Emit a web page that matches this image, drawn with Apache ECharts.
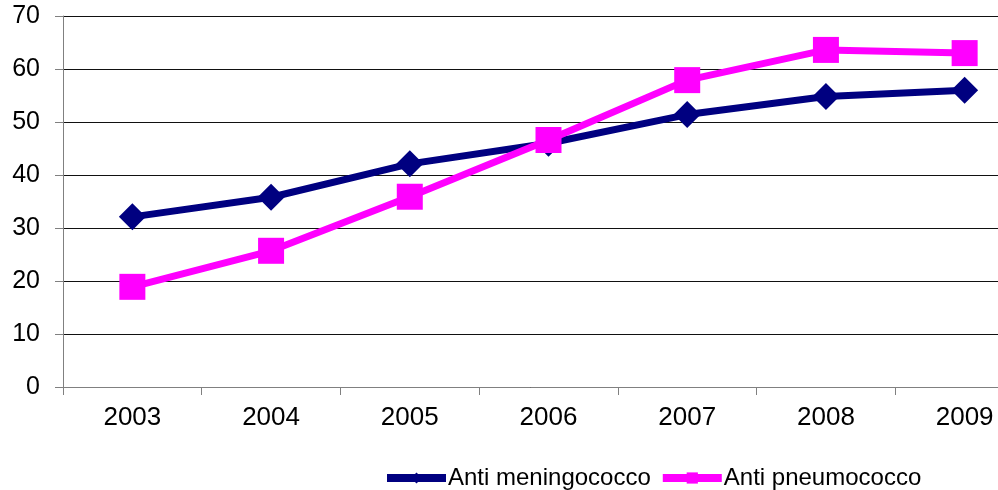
<!DOCTYPE html>
<html>
<head>
<meta charset="utf-8">
<script src="https://cdn.jsdelivr.net/npm/echarts@6/dist/echarts.min.js"></script>
<style>
  html, body { margin: 0; padding: 0; background: #fff; overflow: hidden; }
  #chart { width: 998px; height: 490px; }
</style>
</head>
<body>
<div id="chart"></div>
<script>
// Vaccination coverage by year
const years = ['2003', '2004', '2005', '2006', '2007', '2008', '2009'];
const meningococco = [32.1, 35.8, 42.1, 46.0, 51.4, 54.8, 56.0];
const pneumococco = [18.9, 25.7, 35.9, 46.6, 57.9, 63.6, 63.0];
const seriesNames = ['Anti meningococco', 'Anti pneumococco'];

const font = '"Liberation Sans", Arial, sans-serif';
const chart = echarts.init(document.getElementById('chart'), null, { renderer: 'canvas' });

chart.setOption({
  animation: false,
  textStyle: { fontFamily: font },
  // plot area runs past the right edge of the canvas
  grid: {
    left: 63, width: 971, top: 16, bottom: 103,
    containLabel: false,
    outerBoundsMode: 'none'
  },
  legend: {
    top: 466,
    left: 383,
    padding: 0,
    itemWidth: 59,
    itemHeight: 14,
    itemGap: 8,
    lineStyle: { width: 8 },
    textStyle: { fontSize: 24, color: '#000', fontFamily: font, padding: [0, 0, 0, -3] },
    data: seriesNames
  },
  xAxis: {
    type: 'category',
    data: years,
    boundaryGap: true,
    axisLine: { lineStyle: { color: '#808080', width: 1 } },
    axisTick: { show: true, length: 8, lineStyle: { color: '#808080' } },
    axisLabel: { fontSize: 26, color: '#000', margin: 18, fontFamily: font }
  },
  yAxis: {
    type: 'value',
    min: 0,
    max: 70,
    interval: 10,
    axisLine: { show: true, lineStyle: { color: '#808080', width: 1 } },
    axisTick: { show: true, length: 8, lineStyle: { color: '#808080' } },
    axisLabel: { fontSize: 25, color: '#000', margin: 23, fontFamily: font },
    splitLine: { lineStyle: { color: '#111', width: 1 } }
  },
  series: [
    {
      name: seriesNames[0],
      type: 'line',
      data: meningococco,
      symbol: 'diamond',
      symbolSize: 27,
      lineStyle: { color: '#000080', width: 7 },
      itemStyle: { color: '#000080' },
      z: 2
    },
    {
      name: seriesNames[1],
      type: 'line',
      data: pneumococco,
      symbol: 'rect',
      symbolSize: 26,
      lineStyle: { color: '#FF00FF', width: 7 },
      itemStyle: { color: '#FF00FF' },
      z: 3
    }
  ]
});
</script>
</body>
</html>
